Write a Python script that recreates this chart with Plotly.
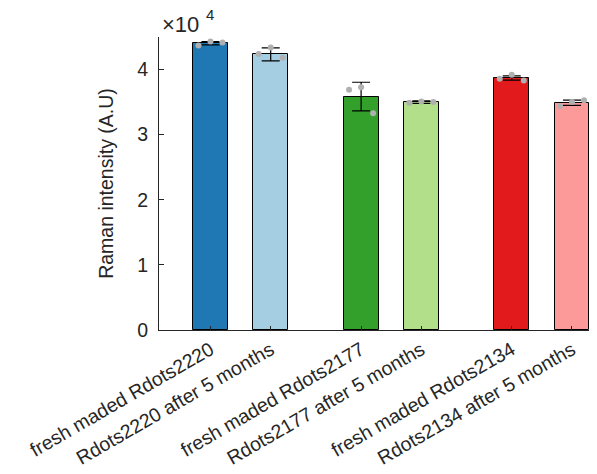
import plotly.graph_objects as go

categories = ["fresh maded Rdots2220", "Rdots2220 after 5 months",
              "fresh maded Rdots2177", "Rdots2177 after 5 months",
              "fresh maded Rdots2134", "Rdots2134 after 5 months"]
positions = [1, 2, 3.5, 4.5, 6, 7]
means = [44050, 42330, 35850, 35000, 38700, 34900]
errors = [250, 1000, 2200, 180, 330, 400]
replicates = [
    [43700, 44300, 44150],
    [42400, 43400, 41800],
    [36900, 37300, 33300],
    [34900, 35100, 35000],
    [38600, 39200, 38300],
    [34400, 35000, 35300],
]
jitter = [-0.2, 0, 0.2]
colors = ["#1f78b4", "#a6cee3", "#33a02c", "#b2df8a", "#e31a1c", "#fb9a99"]
ytick_vals = [0, 10000, 20000, 30000, 40000]
ytick_text = ["0", "1", "2", "3", "4"]

FONT = "Liberation Sans, Arial, Helvetica, sans-serif"
AX = "#262626"

fig = go.Figure()
fig.add_trace(go.Bar(
    x=positions, y=means, width=0.58,
    marker=dict(color=colors, line=dict(color="black", width=1)),
    error_y=dict(type="data", array=errors, color="black", thickness=1.2, width=9),
    showlegend=False,
))
for p, reps in zip(positions, replicates):
    fig.add_trace(go.Scatter(
        x=[p + j for j in jitter], y=reps, mode="markers",
        marker=dict(color="#b0b0b0", size=6),
        showlegend=False, cliponaxis=False,
    ))

# page body has an 8px margin, so the figure is sized/offset to compensate
fig.update_layout(
    width=589, height=466,
    margin=dict(l=151, r=0, t=29, b=144),
    plot_bgcolor="white", paper_bgcolor="white",
    font=dict(family=FONT, size=19, color=AX),
    bargap=0,
)
fig.update_xaxes(
    range=[0.146, 7.415], tickvals=positions, ticktext=categories,
    tickangle=-30, showline=True, linecolor=AX, linewidth=1,
    ticks="inside", ticklen=4, tickcolor=AX, showgrid=False, zeroline=False,
    tickfont=dict(size=19.5, color=AX), ticklabelstandoff=0, automargin=False,
)
fig.update_yaxes(
    range=[0, 45000], tickvals=ytick_vals, ticktext=ytick_text,
    showline=True, linecolor=AX, linewidth=1,
    ticks="inside", ticklen=5, tickcolor=AX, showgrid=False, zeroline=False,
    tickfont=dict(size=19.5, color=AX), ticklabelstandoff=6, automargin=False,
    title=dict(text="Raman intensity (A.U)", font=dict(size=19.5, color=AX), standoff=18),
)
fig.add_annotation(
    text="×10", xref="paper", yref="paper", x=0, y=1,
    xanchor="left", yanchor="bottom", showarrow=False, xshift=1, yshift=-2,
    font=dict(size=22, color=AX, family=FONT),
)
fig.add_annotation(
    text="4", xref="paper", yref="paper", x=0, y=1,
    xanchor="left", yanchor="bottom", showarrow=False, xshift=45, yshift=12,
    font=dict(size=15, color=AX, family=FONT),
)
fig.write_html("out.html")
